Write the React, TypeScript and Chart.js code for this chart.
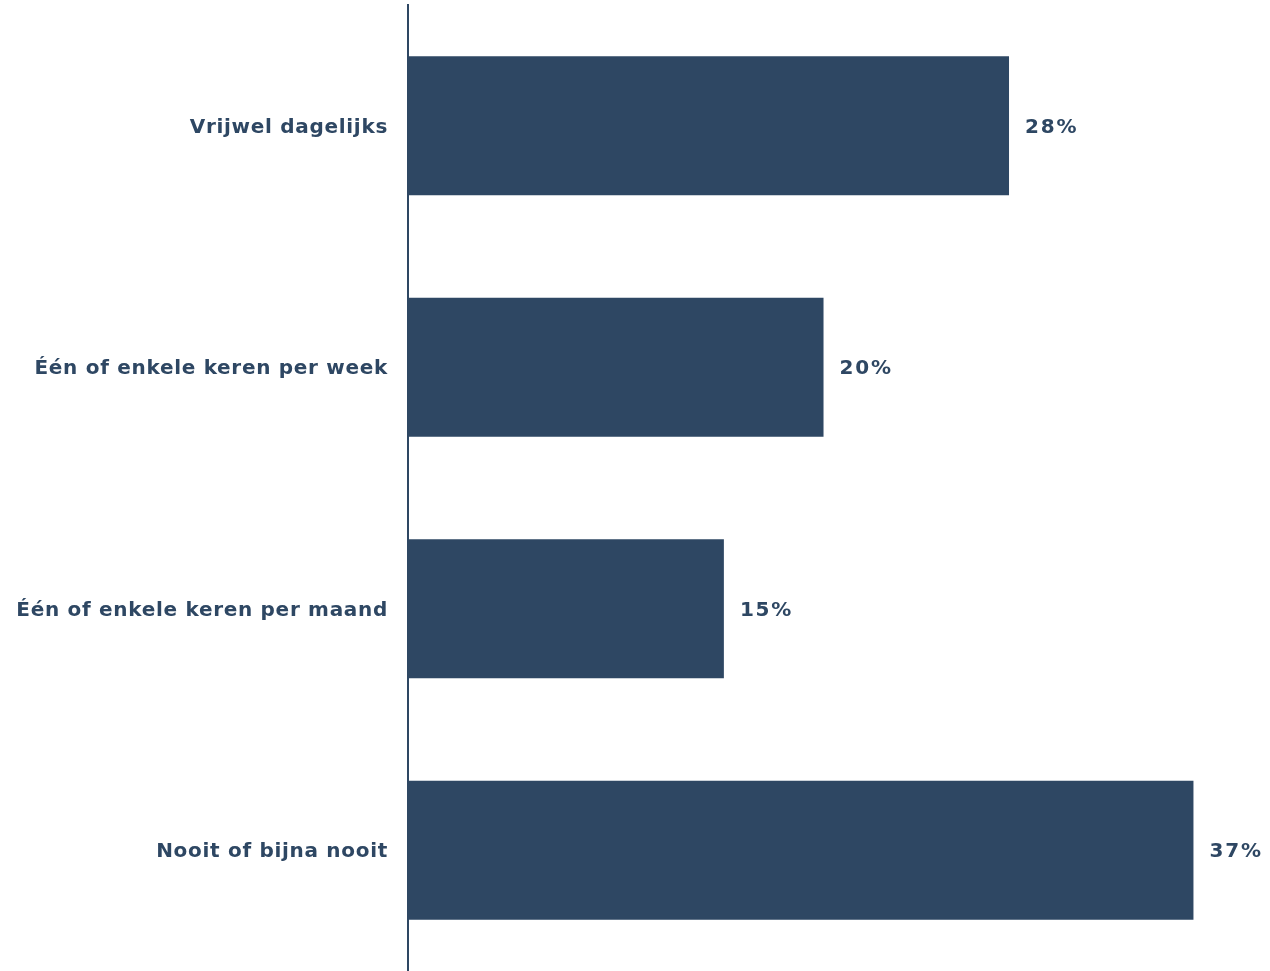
import React, { useEffect, useRef } from "react";
import { Chart, registerables } from "chart.js";

Chart.register(...registerables);

const categories = [
  "Vrijwel dagelijks",
  "Één of enkele keren per week",
  "Één of enkele keren per maand",
  "Nooit of bijna nooit",
];
const values = [28.35, 19.6, 14.9, 37.05];
const valueLabels = ["28%", "20%", "15%", "37%"];

const COLOR = "#2E4763";
const FONT = "'DejaVu Sans', Verdana, sans-serif";

export default function App() {
  const ref = useRef<HTMLCanvasElement | null>(null);
  useEffect(() => {
    if (!ref.current) return;
    const labelPlugin = {
      id: "valueLabels",
      beforeDraw(chart: any) {
        (chart.ctx as any).letterSpacing = "0.7px";
      },
      afterDatasetsDraw(chart: any) {
        const ctx = chart.ctx;
        const meta = chart.getDatasetMeta(0);
        ctx.save();
        ctx.fillStyle = COLOR;
        ctx.font = `bold 20px ${FONT}`;
        (ctx as any).letterSpacing = "1.8px";
        ctx.textAlign = "left";
        ctx.textBaseline = "middle";
        meta.data.forEach((bar: any, i: number) => {
          ctx.fillText(valueLabels[i], bar.x + 16, bar.y + 2);
        });
        ctx.restore();
      },
    };
    const chart = new Chart(ref.current, {
      type: "bar",
      data: {
        labels: categories,
        datasets: [
          {
            data: values,
            backgroundColor: COLOR,
            categoryPercentage: 1,
            barPercentage: 0.575,
          },
        ],
      },
      options: {
        indexAxis: "y",
        animation: false,
        responsive: false,
        maintainAspectRatio: false,
        layout: { padding: { top: 5, right: 14, bottom: -3, left: 0 } },
        plugins: { legend: { display: false }, tooltip: { enabled: false } },
        scales: {
          x: {
            display: false,
            min: 0,
            max: 40,
          },
          y: {
            grid: { display: false, drawTicks: false },
            border: { display: true, color: COLOR, width: 2 },
            ticks: {
              color: COLOR,
              padding: 20,
              labelOffset: 2,
              font: { family: FONT, size: 20, weight: "bold" },
            },
            afterFit(scale: any) {
              scale.width = 408;
              scale.paddingTop = 0;
              scale.paddingBottom = 0;
            },
          },
        },
      },
      plugins: [labelPlugin],
    });
    return () => chart.destroy();
  }, []);
  return (
    <div style={{ position: "fixed", left: 0, top: 0, width: 1270, height: 971, background: "#fff" }}>
      <canvas ref={ref} width={1270} height={971} style={{ width: 1270, height: 971, display: "block" }} />
    </div>
  );
}
